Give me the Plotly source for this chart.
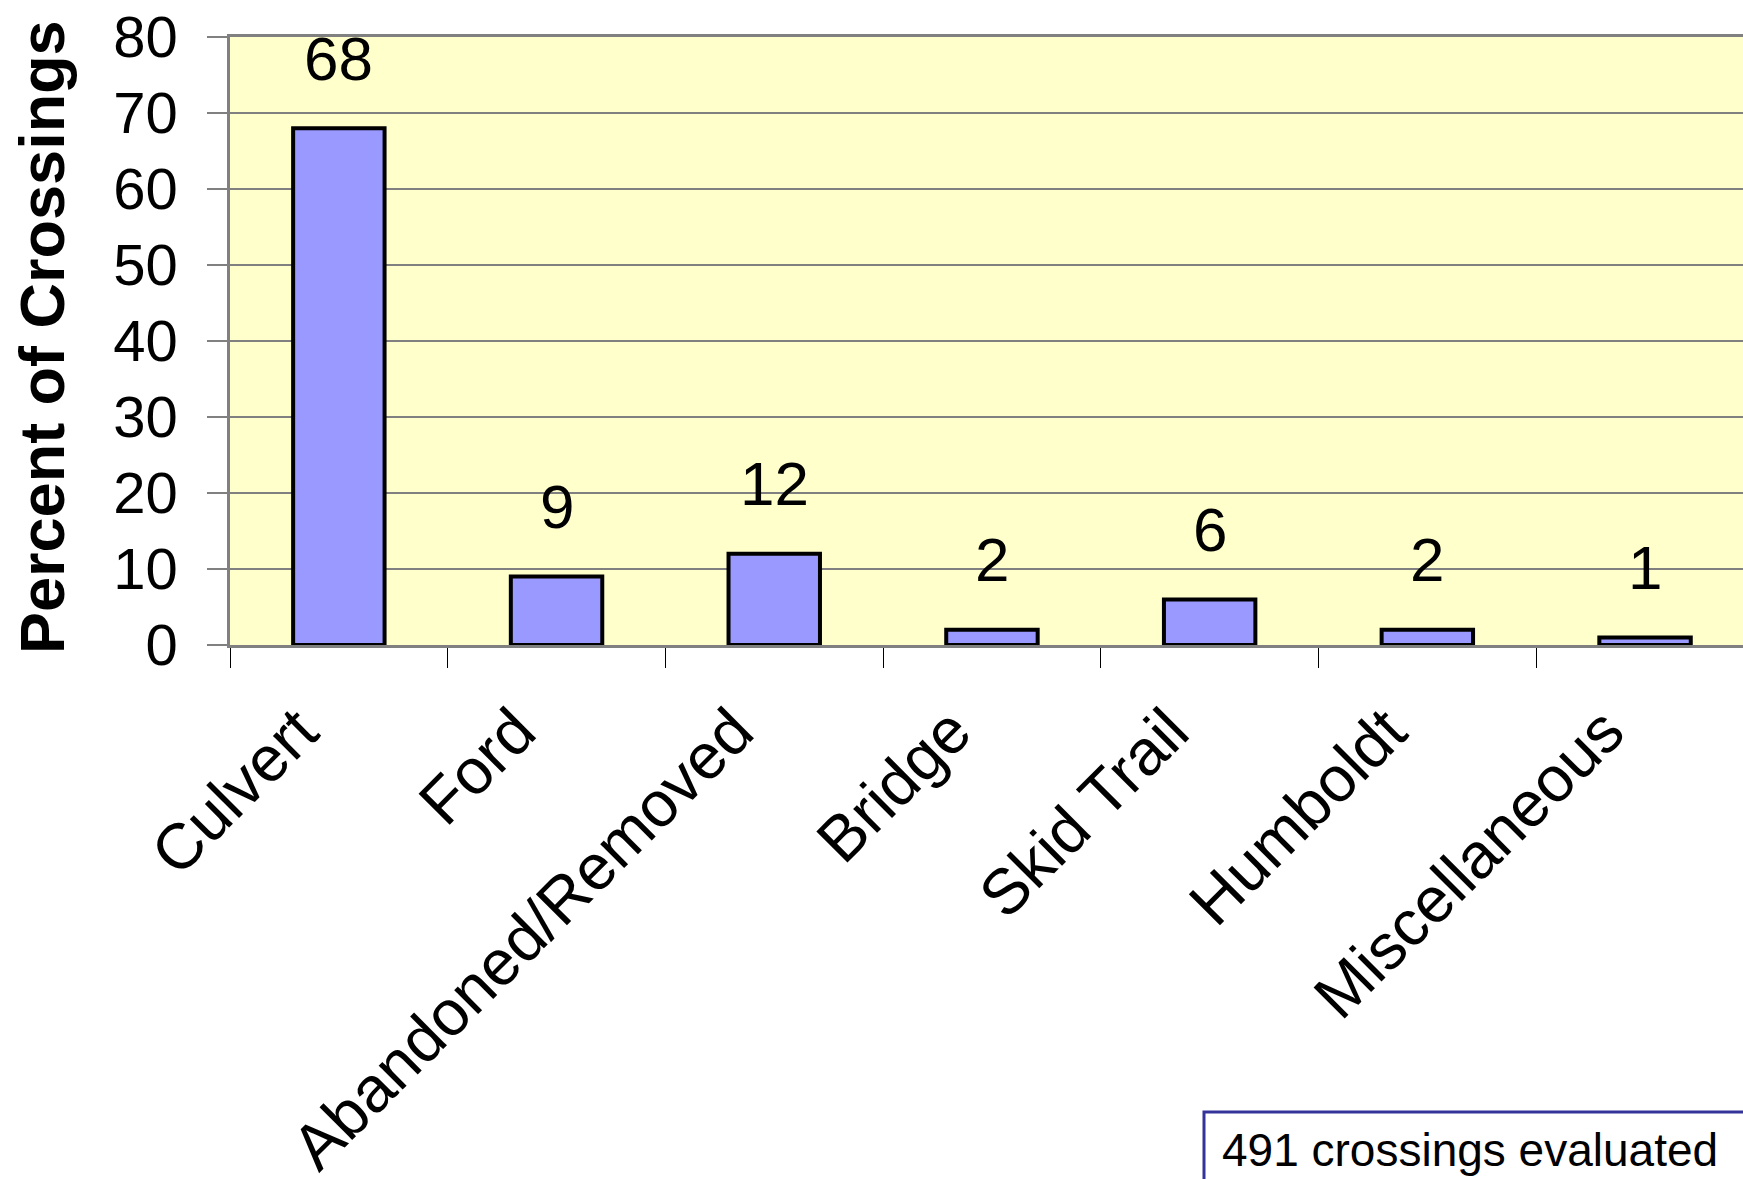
import plotly.graph_objects as go

categories = ["Culvert", "Ford", "Abandoned/Removed", "Bridge", "Skid Trail", "Humboldt", "Miscellaneous"]
values = [68, 9, 12, 2, 6, 2, 1]
labels = ["68", "9", "12", "2", "6", "2", "1"]
y_ticks = [0, 10, 20, 30, 40, 50, 60, 70, 80]
note_text = "491 crossings evaluated"
y_title = "Percent of Crossings"

FONT = "Liberation Sans, Arial, sans-serif"
OFF = 0  # body margin removed via post_script
W, H = 1743, 1179
L, T = 230 - OFF, 37 - OFF
BOT = 645 - OFF  # plot bottom in figure coords
B = H - BOT
R = 0
pw = W - L - R
ph = BOT - T
cat_px = 217.7
x_max = -0.5 + pw / cat_px


def px(xpage):
    return (xpage - OFF - L) / pw


def py(ypage):
    return (BOT - (ypage - OFF)) / ph


fig = go.Figure()
fig.add_trace(go.Bar(
    x=list(range(len(categories))),
    y=values,
    width=0.42,
    marker=dict(color="#9999FF", line=dict(color="black", width=4)),
    showlegend=False,
))

for i, (v, t) in enumerate(zip(values, labels)):
    fig.add_annotation(x=i, y=v, text=t, showarrow=False, xref="x", yref="y",
                       yanchor="middle", yshift=70,
                       font=dict(family=FONT, size=62, color="black"))

# y title
fig.add_annotation(x=px(42), y=py(337), xref="paper", yref="paper",
                   text="<b>" + y_title + "</b>", textangle=-90, showarrow=False,
                   xanchor="center", yanchor="middle",
                   font=dict(family=FONT, size=63, color="black"))

# note box
fig.add_shape(type="rect", xref="paper", yref="paper",
              x0=px(1204), x1=1.3, y0=py(1112), y1=-1.5,
              line=dict(color="#333399", width=3), fillcolor="white", layer="above")
fig.add_annotation(x=px(1220), y=py(1150), xref="paper", yref="paper",
                   text=note_text, showarrow=False, xanchor="left", yanchor="middle",
                   font=dict(family=FONT, size=46, color="black"))

fig.update_layout(
    width=W, height=H, autosize=False,
    margin=dict(l=L, r=R, t=T, b=B, pad=0, autoexpand=False),
    paper_bgcolor="white",
    plot_bgcolor="#FFFFCC",
    font=dict(family=FONT, color="black"),
)
fig.update_xaxes(
    tickmode="array", tickvals=list(range(len(categories))), ticktext=categories,
    range=[-0.5, x_max], tickangle=-45, automargin=False,
    tickfont=dict(family=FONT, size=64, color="black"),
    showline=True, linecolor="#808080", linewidth=3, mirror=True,
    ticks="", showgrid=False, zeroline=False,
    ticklabelshift=-40, ticklabelstandoff=20, ticklabeloverflow="allow",
)
fig.update_xaxes(minor=dict(tickmode="array", tickvals=[i - 0.5 for i in range(len(categories) + 1)],
                            ticks="outside", ticklen=20, tickcolor="black", tickwidth=1, showgrid=False))
fig.update_yaxes(
    range=[0, 80], tickmode="array", tickvals=y_ticks, automargin=False,
    tickfont=dict(family=FONT, size=58, color="black"),
    ticks="outside", ticklen=20, tickcolor="#808080", tickwidth=2,
    showline=True, linecolor="#808080", linewidth=2.5,
    showgrid=True, gridcolor="#808080", gridwidth=1.5,
    zeroline=False, ticklabelstandoff=18, ticklabeloverflow="allow",
)

fig.write_html("out.html", config={"displayModeBar": False},
               post_script="document.body.style.margin='0px';")
